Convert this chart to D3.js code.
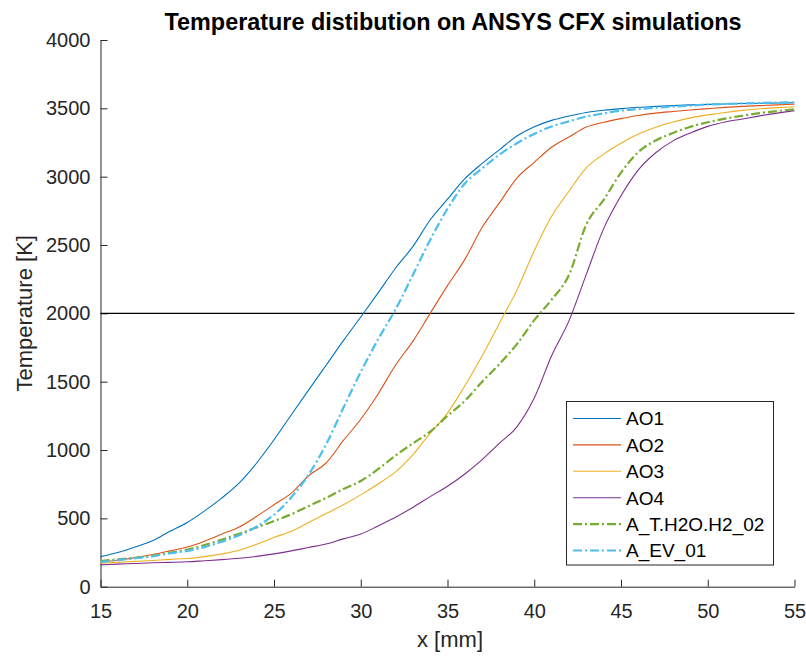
<!DOCTYPE html>
<html>
<head>
<meta charset="utf-8">
<script src="https://cdn.jsdelivr.net/npm/d3@7"></script>
<style>
  body { margin: 0; background: #fff; }
  text { font-family: "Liberation Sans", Arial, Helvetica, sans-serif; }
</style>
</head>
<body>
<div id="chart"></div>
<script>
// x positions [mm]
var xMM = [15, 16, 17, 18, 19, 20, 21, 22, 23, 24, 25, 26, 27, 28, 29, 30, 31, 32, 33, 34, 35,
           36, 37, 38, 39, 40, 41, 42, 43, 44, 45, 46, 47, 48, 49, 50, 51, 52, 53, 54, 55];

var AO1 = [220, 250, 290, 336, 405, 470, 555, 650, 760, 905, 1075, 1258, 1440, 1620, 1800, 1973, 2150, 2330, 2488, 2683, 2835,
           2985, 3097, 3198, 3297, 3365, 3412, 3444, 3470, 3486, 3498, 3508, 3514, 3520, 3525, 3529, 3532, 3535, 3537, 3539, 3541];
var AO2 = [180, 195, 213, 235, 262, 290, 333, 385, 437, 515, 600, 685, 812, 905, 1070, 1225, 1410, 1620, 1795, 2000, 2203,
           2395, 2630, 2810, 2990, 3105, 3215, 3290, 3363, 3398, 3425, 3448, 3465, 3477, 3488, 3498, 3507, 3514, 3520, 3525, 3530];
var AO3 = [172, 178, 185, 192, 200, 206, 220, 240, 267, 310, 360, 405, 470, 535, 600, 672, 752, 840, 965, 1122, 1270,
           1470, 1690, 1930, 2170, 2457, 2710, 2893, 3065, 3165, 3245, 3312, 3362, 3400, 3430, 3452, 3470, 3485, 3497, 3505, 3512];
var AO4 = [160, 165, 170, 175, 178, 182, 190, 198, 208, 222, 240, 262, 287, 312, 350, 385, 445, 508, 580, 659, 735,
           825, 930, 1050, 1170, 1380, 1690, 1945, 2285, 2620, 2860, 3050, 3175, 3262, 3320, 3368, 3400, 3422, 3445, 3465, 3483];
var A_T_H2O_H2_02 = [188, 200, 212, 227, 248, 272, 305, 345, 388, 434, 480, 530, 590, 650, 715, 773, 860, 960, 1048, 1134, 1250,
           1360, 1500, 1630, 1775, 1950, 2100, 2280, 2650, 2830, 3030, 3180, 3265, 3320, 3365, 3398, 3425, 3446, 3465, 3480, 3493];
var A_EV_01 = [180, 195, 208, 222, 245, 262, 290, 330, 376, 440, 526, 654, 821, 1040, 1309, 1571, 1810, 2028, 2280, 2537, 2765,
           2950, 3060, 3162, 3245, 3313, 3367, 3405, 3440, 3463, 3483, 3495, 3505, 3513, 3520, 3528, 3532, 3536, 3539, 3542, 3544];

var seriesNames = ['AO1', 'AO2', 'AO3', 'AO4', 'A_T.H2O.H2_02', 'A_EV_01'];
var seriesData = [AO1, AO2, AO3, AO4, A_T_H2O_H2_02, A_EV_01];
var seriesColors = ['#0072BD', '#D95319', '#EDB120', '#7E2F8E', '#77AC30', '#4DBEEE'];
var seriesDashed = [false, false, false, false, true, true];

var xTicks = [15, 20, 25, 30, 35, 40, 45, 50, 55];
var yTicks = [0, 500, 1000, 1500, 2000, 2500, 3000, 3500, 4000];
var refLine = 2000;

var width = 806, height = 657;
var margin = {top: 40, right: 11.5, bottom: 70.3, left: 100.5};

var svg = d3.select('#chart').append('svg')
    .attr('width', width)
    .attr('height', height);

var x = d3.scaleLinear().domain([15, 55]).range([margin.left, width - margin.right]);
var y = d3.scaleLinear().domain([0, 4000]).range([height - margin.bottom, margin.top]);

// axes (ticks pointing inward)
var xAxis = svg.append('g')
    .attr('transform', 'translate(0,' + y(0) + ')')
    .call(d3.axisBottom(x).tickValues(xTicks).tickFormat(d3.format('d'))
      .tickSize(-7).tickPadding(17).tickSizeOuter(0));
var yAxis = svg.append('g')
    .attr('transform', 'translate(' + x(15) + ',0)')
    .call(d3.axisLeft(y).tickValues(yTicks).tickFormat(d3.format('d'))
      .tickSize(-7).tickPadding(10).tickSizeOuter(0));

[xAxis, yAxis].forEach(function(a) {
  a.select('.domain').attr('stroke', '#262626').attr('stroke-width', 1);
  a.selectAll('.tick line').attr('stroke', '#262626').attr('stroke-width', 1);
  a.selectAll('.tick text')
    .attr('fill', '#262626')
    .style('font-size', '20px')
    .style('font-family', '"Liberation Sans", Arial, sans-serif');
});

// reference line at 2000 K
svg.append('line')
    .attr('x1', x(15)).attr('x2', x(55))
    .attr('y1', y(refLine)).attr('y2', y(refLine))
    .attr('stroke', '#000').attr('stroke-width', 1.3);

var line = d3.line()
    .x(function(d, i) { return x(xMM[i]); })
    .y(function(d) { return y(d); })
    .curve(d3.curveMonotoneX);

var plot = svg.append('g');
seriesData.forEach(function(s, k) {
  plot.append('path')
      .datum(s)
      .attr('d', line)
      .attr('fill', 'none')
      .attr('stroke', seriesColors[k])
      .attr('stroke-width', seriesDashed[k] ? 2.2 : 1.1)
      .attr('stroke-dasharray', seriesDashed[k] ? '9,3,2,3' : null);
});

// title and labels
svg.append('text')
    .attr('x', 453).attr('y', 30)
    .attr('text-anchor', 'middle')
    .style('font-size', '23.4px').style('font-weight', 'bold')
    .text('Temperature distibution on ANSYS CFX simulations');

svg.append('text')
    .attr('x', 450).attr('y', 647)
    .attr('text-anchor', 'middle')
    .attr('fill', '#262626')
    .style('font-size', '22px')
    .text('x [mm]');

svg.append('text')
    .attr('transform', 'translate(32,' + y(2000) + ') rotate(-90)')
    .attr('text-anchor', 'middle')
    .attr('fill', '#262626')
    .style('font-size', '22px')
    .text('Temperature [K]');

// legend
var lg = svg.append('g');
lg.append('rect')
    .attr('x', 566.5).attr('y', 401.5)
    .attr('width', 207).attr('height', 163.5)
    .attr('fill', '#fff').attr('stroke', '#262626').attr('stroke-width', 1);

seriesNames.forEach(function(name, k) {
  var cy = 418.5 + k * 26.4;
  lg.append('line')
      .attr('x1', 573).attr('x2', 621)
      .attr('y1', cy).attr('y2', cy)
      .attr('stroke', seriesColors[k])
      .attr('stroke-width', seriesDashed[k] ? 2.2 : 1.1)
      .attr('stroke-dasharray', seriesDashed[k] ? '9,3,2,3' : null);
  lg.append('text')
      .attr('x', 626).attr('y', cy)
      .attr('dy', '0.36em')
      .style('font-size', '19px')
      .text(name);
});
</script>
</body>
</html>
